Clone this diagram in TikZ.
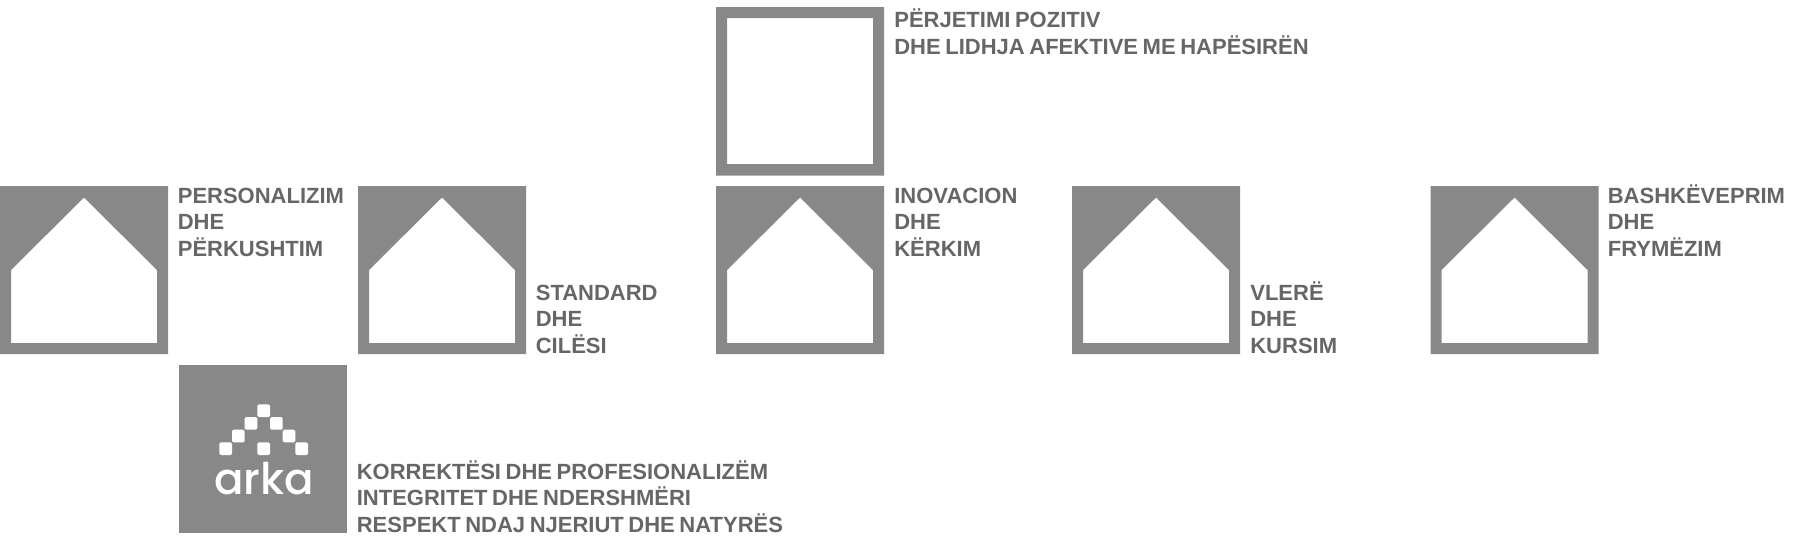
\documentclass[tikz,border=0pt]{standalone}
\usepackage{fontspec}
\setmainfont{Liberation Sans}[WordSpace=.75]
\newfontfamily\logofont{Poppins}[UprightFont=* Medium]
\definecolor{boxgray}{HTML}{888888}
\definecolor{labelgray}{HTML}{666666}
\tikzset{
    lbl/.style={anchor=base west,inner sep=0,align=left,text=labelgray,font=\bfseries\fontsize{12.52}{15.08}\selectfont},
    logotext/.style={anchor=base,inner sep=0,text=white,font=\logofont\fontsize{24.8}{25}\selectfont}
}
\begin{document}
\begin{tikzpicture}[x=.02cm,y=-.02cm]
        \useasboundingbox (0,0) rectangle (1800,542);
        % houses
        \foreach \x in {0,358,716,1072,1430.5}
        \fill[boxgray,even odd rule] (\x,186) rectangle ++(168.2,168)
            (\x+84,197.5) -- (\x+157,270) -- (\x+157,343) -- (\x+11,343) -- (\x+11,270) -- cycle;
        % top square
        \fill[boxgray,even odd rule] (716,7) rectangle (884.2,175.5) (727,18) rectangle (873,164);
        % logo
        \fill[boxgray] (179,365) rectangle (347,533);
        \foreach \x/\y in {263.7/410.7,251/423.4,276.4/423.4,238.3/436,289/436,225.7/448.7,263.7/448.7,301.7/448.7}
        \fill[white,rounded corners=.8pt] (\x-6.3,\y-6.3) rectangle ++(12.6,12.6);
        \node[logotext] (logo) at (264,494) {arka};
        % labels
        \node[lbl] (perjetimi) at (894,54.3) {PËRJETIMI POZITIV\\DHE LIDHJA AFEKTIVE ME HAPËSIRËN};
        \node[lbl] (personalizim) at (177.5,256) {PERSONALIZIM\\DHE\\PËRKUSHTIM};
        \node[lbl] (standard) at (535.5,353.3) {STANDARD\\DHE\\CILËSI};
        \node[lbl] (inovacion) at (894,256) {INOVACION\\DHE\\KËRKIM};
        \node[lbl] (vlere) at (1250,353.3) {VLERË\\DHE\\KURSIM};
        \node[lbl] (bashkeveprim) at (1607.5,256) {BASHKËVEPRIM\\DHE\\FRYMËZIM};
        \node[lbl] (korrektesi) at (356.5,532.3) {KORREKTËSI DHE PROFESIONALIZËM\\INTEGRITET DHE NDERSHMËRI\\RESPEKT NDAJ NJERIUT DHE NATYRËS};
    \end{tikzpicture}
\end{document}
